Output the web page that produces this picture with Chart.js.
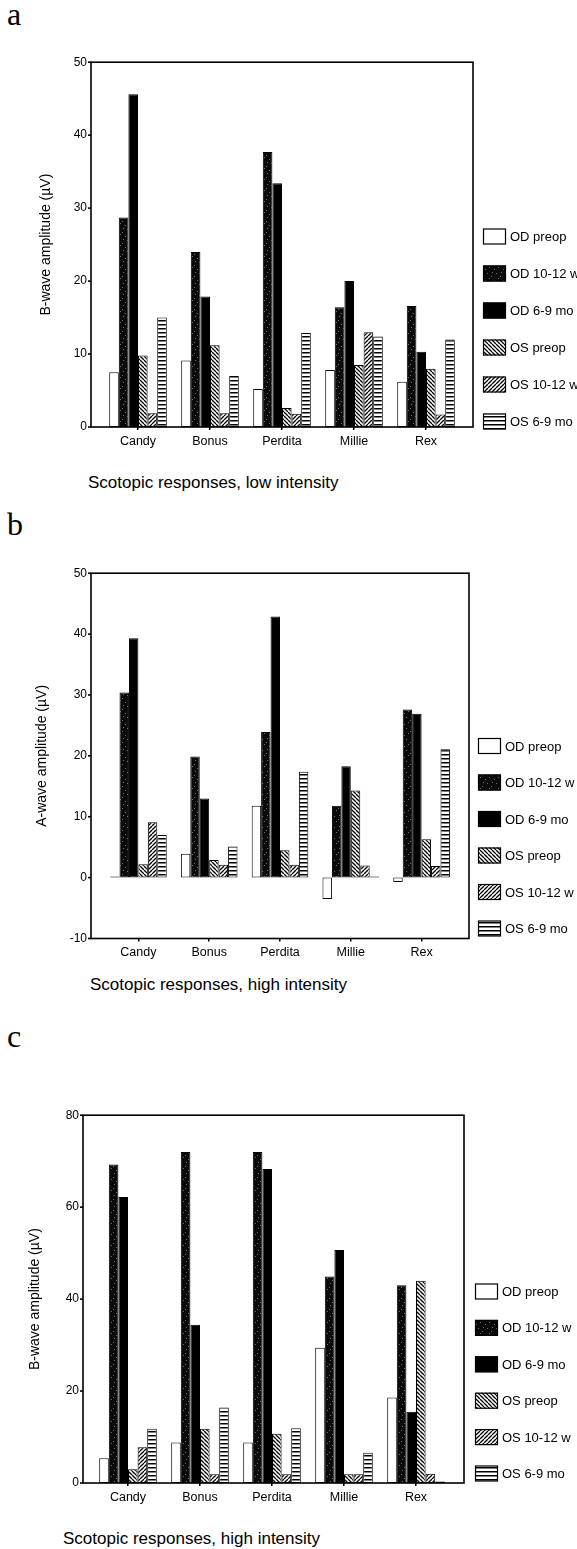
<!DOCTYPE html>
<html>
<head>
<meta charset="utf-8">
<script src="https://cdn.jsdelivr.net/npm/chart.js@4.4.1/dist/chart.umd.min.js"></script>
<style>
  body { margin: 0; background: #fff; }
  #page { position: relative; width: 577px; height: 1549px; font-family: "Liberation Sans", Arial, sans-serif; color: #000; overflow: hidden; }
  canvas { position: absolute; left: 0; }
  .lett { position: absolute; font-family: "Liberation Serif", "Times New Roman", serif; font-size: 32px; line-height: 32px; }
  .cap { position: absolute; font-size: 17px; line-height: 17px; white-space: nowrap; }
</style>
</head>
<body>
<div id="page">
  <div class="lett" style="left:7px; top:-2px">a</div>
  <canvas id="chartA" width="577" height="420" style="top:40px"></canvas>
  <div class="cap" style="left:88px; top:474px">Scotopic responses, low intensity</div>

  <div class="lett" style="left:7px; top:508px">b</div>
  <canvas id="chartB" width="577" height="420" style="top:550px"></canvas>
  <div class="cap" style="left:90px; top:976px">Scotopic responses, high intensity</div>

  <div class="lett" style="left:7px; top:1020px">c</div>
  <canvas id="chartC" width="577" height="420" style="top:1095px"></canvas>
  <div class="cap" style="left:63px; top:1530px">Scotopic responses, high intensity</div>
</div>

<script>
const categories = ['Candy', 'Bonus', 'Perdita', 'Millie', 'Rex'];
const seriesNames = ['OD preop', 'OD 10-12 w', 'OD 6-9 mo', 'OS preop', 'OS 10-12 w', 'OS 6-9 mo'];

// a - B-wave, low intensity
const aODpreop = [7.5, 9.1, 5.2, 7.8, 6.2];
const aOD1012  = [28.7, 24.0, 37.7, 16.4, 16.6];
const aOD69    = [45.6, 17.9, 33.4, 20.0, 10.3];
const aOSpreop = [9.8, 11.2, 2.6, 8.5, 8.0];
const aOS1012  = [1.9, 1.9, 1.8, 13.0, 1.7];
const aOS69    = [15.0, 7.0, 12.9, 12.4, 12.0];
const aTicks = [0, 10, 20, 30, 40, 50];

// b - A-wave, high intensity
const bODpreop = [0.2, 3.9, 11.8, -3.5, -0.7];
const bOD1012  = [30.4, 19.9, 23.9, 11.8, 27.6];
const bOD69    = [39.3, 13.0, 42.9, 18.3, 26.9];
const bOSpreop = [2.2, 2.9, 4.5, 14.3, 6.3];
const bOS1012  = [9.1, 2.1, 2.1, 2.0, 1.9];
const bOS69    = [7.0, 5.1, 17.4, 0.2, 21.1];
const bTicks = [-10, 0, 10, 20, 30, 40, 50];

// c - B-wave, high intensity
const cODpreop = [5.4, 8.8, 8.8, 29.4, 18.6];
const cOD1012  = [69.3, 72.0, 72.0, 44.9, 43.0];
const cOD69    = [62.2, 34.4, 68.3, 50.7, 15.5];
const cOSpreop = [3.0, 11.8, 10.7, 1.9, 44.0];
const cOS1012  = [7.8, 1.9, 1.9, 1.9, 2.0];
const cOS69    = [11.8, 16.4, 11.9, 6.6, 0.3];
const cTicks = [0, 20, 40, 60, 80];

const FONT = '"Liberation Sans", Arial, sans-serif';

// fill patterns
function tile(w, h, draw) {
  const c = document.createElement('canvas');
  c.width = w; c.height = h;
  const x = c.getContext('2d');
  x.fillStyle = '#fff';
  x.fillRect(0, 0, w, h);
  draw(x);
  return document.createElement('canvas').getContext('2d').createPattern(c, 'repeat');
}
const speckle = tile(9, 11, x => {
  x.fillStyle = '#0a0a0a';
  x.fillRect(0, 0, 9, 11);
  x.fillStyle = '#6e6e6e';
  [[1, 2], [6, 1], [3, 7], [8, 9], [5, 5]].forEach(p => x.fillRect(p[0], p[1], 1, 1));
});
const hatchDown = tile(4, 4, x => {
  x.strokeStyle = '#000'; x.lineWidth = 1.3; x.beginPath();
  for (let k = -4; k <= 4; k += 4) { x.moveTo(k, 0); x.lineTo(k + 4, 4); }
  x.stroke();
});
const hatchUp = tile(4, 4, x => {
  x.strokeStyle = '#000'; x.lineWidth = 1.3; x.beginPath();
  for (let k = -4; k <= 4; k += 4) { x.moveTo(k, 4); x.lineTo(k + 4, 0); }
  x.stroke();
});
const hLines = tile(4, 4, x => {
  x.fillStyle = '#000';
  x.fillRect(0, 0, 4, 1.5);
});
const fills = ['#fff', speckle, '#000', hatchDown, hatchUp, hLines];

// box around the plot, left ticks and legend
const framePlugin = {
  id: 'frame',
  afterDraw(chart, args, o) {
    const { ctx, chartArea: ca } = chart;
    const L = ca.left - o.padL, R = ca.right + o.padR;
    ctx.save();
    ctx.strokeStyle = '#000';
    ctx.lineWidth = 1.6;
    ctx.strokeRect(L, ca.top, R - L, ca.bottom - ca.top);
    const y = chart.scales.y;
    y.ticks.forEach(t => {
      const py = y.getPixelForValue(t.value);
      ctx.beginPath(); ctx.moveTo(L - 3, py); ctx.lineTo(L, py); ctx.stroke();
    });

    ctx.font = '13px ' + FONT;
    ctx.textBaseline = 'middle';
    const n = chart.data.datasets.length;
    chart.data.datasets.forEach((ds, i) => {
      const cy = ca.bottom - o.legBottom - (n - 1 - i) * o.legGap;
      const bx = R + o.legX;
      ctx.fillStyle = ds.backgroundColor;
      ctx.fillRect(bx, cy - 8, 23, 16);
      ctx.lineWidth = 1.2;
      ctx.strokeStyle = '#000';
      ctx.strokeRect(bx + 0.5, cy - 7.5, 22, 15);
      ctx.fillStyle = '#000';
      ctx.fillText(ds.label, bx + 27, cy + 1);
    });
    ctx.restore();
  }
};

function makePanel(id, values, ticks, yTitle, cfg) {
  const ctx = document.getElementById(id).getContext('2d');
  return new Chart(ctx, {
    type: 'bar',
    data: {
      labels: categories,
      datasets: seriesNames.map((name, i) => ({
        label: name,
        data: values[i],
        backgroundColor: fills[i],
        borderColor: '#000',
        borderWidth: 1,
        borderSkipped: false,
        barPercentage: 1,
        categoryPercentage: 0.8
      }))
    },
    options: {
      responsive: false,
      animation: false,
      layout: { padding: { left: 0, top: cfg.top, right: cfg.right, bottom: 0 } },
      plugins: {
        legend: { display: false },
        tooltip: { enabled: false },
        frame: cfg.frame
      },
      scales: {
        x: {
          grid: { display: true, drawOnChartArea: false, drawTicks: true, tickLength: 3, offset: false, color: '#000', lineWidth: 1.5 },
          border: { display: false },
          ticks: { color: '#000', font: { family: FONT, size: 12.5 }, padding: 4, maxRotation: 0 },
          afterFit: s => { s.height = cfg.xh; }
        },
        y: {
          min: ticks[0],
          max: ticks[ticks.length - 1],
          grid: { display: false, drawTicks: false },
          border: { display: false },
          ticks: { stepSize: ticks[1] - ticks[0], color: '#000', font: { family: FONT, size: 12 }, padding: cfg.frame.padL + 4 },
          title: { display: true, text: yTitle, color: '#000', font: { family: FONT, size: 14 }, padding: { top: cfg.titleX - 8.4, bottom: 0 } },
          afterFit: s => { s.width = cfg.yw; }
        }
      }
    },
    plugins: [framePlugin]
  });
}

makePanel('chartA', [aODpreop, aOD1012, aOD69, aOSpreop, aOS1012, aOS69], aTicks, 'B-wave amplitude (µV)', {
  top: 15, right: 115, xh: 33, yw: 102, titleX: 46,
  frame: { padL: 11, padR: 11, legX: 10, legBottom: 5.5, legGap: 37 }
});
makePanel('chartB', [bODpreop, bOD1012, bOD69, bOSpreop, bOS1012, bOS69], bTicks, 'A-wave amplitude (µV)', {
  top: 16, right: 120, xh: 31.5, yw: 103, titleX: 42.5,
  frame: { padL: 12, padR: 12, legX: 9, legBottom: 10, legGap: 36.5 }
});
makePanel('chartC', [cODpreop, cOD1012, cOD69, cOSpreop, cOS1012, cOS69], cTicks, 'B-wave amplitude (µV)', {
  top: 15, right: 125, xh: 32, yw: 92, titleX: 35,
  frame: { padL: 9, padR: 12, legX: 11, legBottom: 9.5, legGap: 36.4 }
});
</script>
</body>
</html>
